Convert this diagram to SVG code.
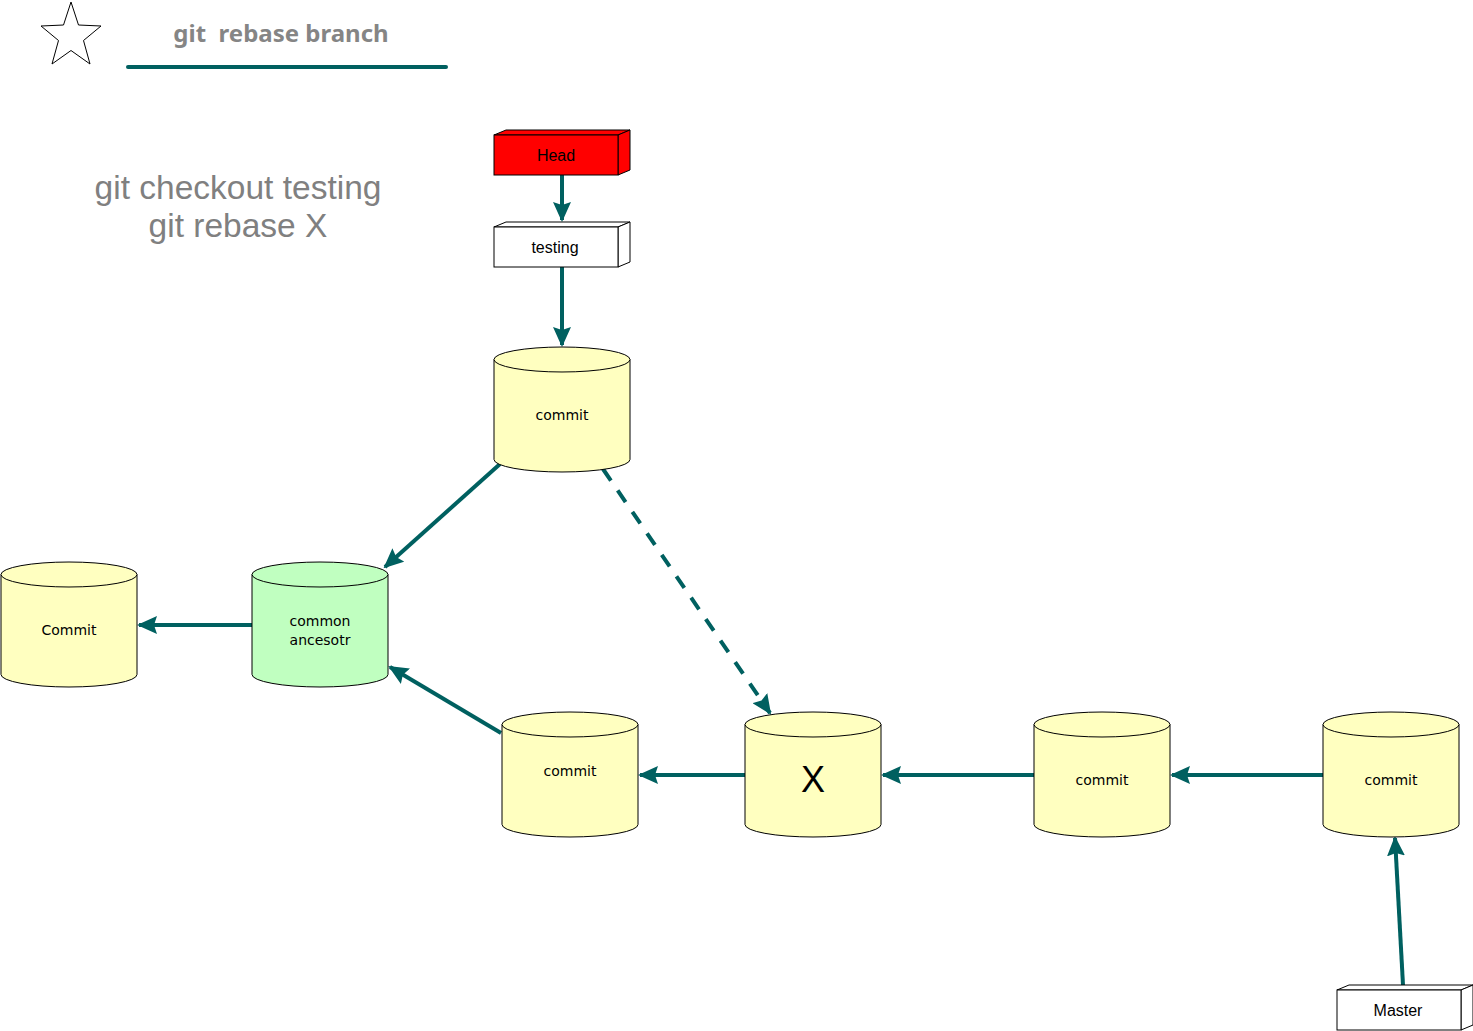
<svg xmlns="http://www.w3.org/2000/svg" width="1473" height="1031" viewBox="0 0 1473 1031">
<style>
.cyl{fill:#ffffc0;stroke:#000;stroke-width:1}
.cylg{fill:#c0ffc0;stroke:#000;stroke-width:1}
.ct{font-family:"DejaVu Sans",Verdana,sans-serif;font-size:14px;fill:#000;text-anchor:middle}
.bt{font-family:"Liberation Sans",Arial,sans-serif;font-size:16px;fill:#000;text-anchor:middle}
.box{stroke:#000;stroke-width:1}
.conn{stroke:#006060;stroke-width:4;fill:none}
</style>
<defs>
<marker id="ah" markerUnits="userSpaceOnUse" markerWidth="20" markerHeight="18" refX="18" refY="9" orient="auto">
<path d="M0,0 L20,9 L0,18 L3,9 Z" fill="#006060"/>
</marker>
</defs>
<rect width="1473" height="1031" fill="#fff"/>

<g id="title">
<polygon points="71,2 78.5,25 101,26 83.5,40.5 90,64 71,50.5 52,64 58.5,40.5 41,26 63.5,25" fill="none" stroke="#000" stroke-width="1"/>
<text x="281" y="42" font-family="'Noto Sans','Open Sans',sans-serif" font-weight="bold" font-size="24" fill="#858585" text-anchor="middle" xml:space="preserve">git  rebase branch</text>
<line x1="128" y1="67" x2="446" y2="67" stroke="#006060" stroke-width="4" stroke-linecap="round"/>
</g>

<g id="note">
<text x="238" y="199" font-family="'Liberation Sans',Arial,sans-serif" font-size="33.5" fill="#808080" text-anchor="middle">git checkout testing</text>
<text x="238" y="237" font-family="'Liberation Sans',Arial,sans-serif" font-size="33.5" fill="#808080" text-anchor="middle">git rebase X</text>
</g>

<g id="connectors">
<line class="conn" x1="562" y1="175" x2="562" y2="220" marker-end="url(#ah)"/>
<line class="conn" x1="562" y1="267" x2="562" y2="345" marker-end="url(#ah)"/>
<line class="conn" x1="500" y1="464" x2="385" y2="567" marker-end="url(#ah)"/>
<line class="conn" x1="603" y1="469" x2="770" y2="713" stroke-dasharray="14,12" marker-end="url(#ah)"/>
<line class="conn" x1="253" y1="625" x2="139" y2="625" marker-end="url(#ah)"/>
<line class="conn" x1="501" y1="733" x2="390" y2="667" marker-end="url(#ah)"/>
<line class="conn" x1="746" y1="775" x2="640" y2="775" marker-end="url(#ah)"/>
<line class="conn" x1="1035" y1="775" x2="883" y2="775" marker-end="url(#ah)"/>
<line class="conn" x1="1323" y1="775" x2="1172" y2="775" marker-end="url(#ah)"/>
<line class="conn" x1="1403" y1="985" x2="1395" y2="838" marker-end="url(#ah)"/>
</g>

<g id="head">
<polygon class="box" points="494,135 506,130 630,130 618,135" fill="#ff0000"/>
<polygon class="box" points="618,135 630,130 630,170 618,175" fill="#ff0000"/>
<rect class="box" x="494" y="135" width="124" height="40" fill="#ff0000"/>
<text class="bt" x="556" y="161">Head</text>
</g>

<g id="testing">
<polygon class="box" points="494,227 506,222 630,222 618,227" fill="#fff"/>
<polygon class="box" points="618,227 630,222 630,262 618,267" fill="#fff"/>
<rect class="box" x="494" y="227" width="124" height="40" fill="#fff"/>
<text class="bt" x="555" y="253">testing</text>
</g>

<g id="master">
<polygon class="box" points="1337,990 1349,985 1473,985 1461,990" fill="#fff"/>
<polygon class="box" points="1461,990 1473,985 1473,1025 1461,1030" fill="#fff"/>
<rect class="box" x="1337" y="990" width="124" height="40" fill="#fff"/>
<text class="bt" x="1398" y="1016">Master</text>
</g>

<g id="commit-top">
<path class="cyl" d="M494,359.5 A68,12.5 0 0 1 630,359.5 L630,459.5 A68,12.5 0 0 1 494,459.5 Z"/>
<path class="cyl" d="M494,359.5 A68,12.5 0 0 0 630,359.5" fill="none"/>
<text class="ct" x="562" y="420">commit</text>
</g>

<g id="commit-left">
<path class="cyl" d="M1,574.5 A68,12.5 0 0 1 137,574.5 L137,674.5 A68,12.5 0 0 1 1,674.5 Z"/>
<path class="cyl" d="M1,574.5 A68,12.5 0 0 0 137,574.5" fill="none"/>
<text class="ct" x="69" y="635">Commit</text>
</g>

<g id="common-ancestor">
<path class="cylg" d="M252,574.5 A68,12.5 0 0 1 388,574.5 L388,674.5 A68,12.5 0 0 1 252,674.5 Z"/>
<path class="cylg" d="M252,574.5 A68,12.5 0 0 0 388,574.5" fill="none"/>
<text class="ct" x="320" y="626">common</text>
<text class="ct" x="320" y="645">ancesotr</text>
</g>

<g id="commit-bottom">
<path class="cyl" d="M502,724.5 A68,12.5 0 0 1 638,724.5 L638,824.5 A68,12.5 0 0 1 502,824.5 Z"/>
<path class="cyl" d="M502,724.5 A68,12.5 0 0 0 638,724.5" fill="none"/>
<text class="ct" x="570" y="776">commit</text>
</g>

<g id="x">
<path class="cyl" d="M745,724.5 A68,12.5 0 0 1 881,724.5 L881,824.5 A68,12.5 0 0 1 745,824.5 Z"/>
<path class="cyl" d="M745,724.5 A68,12.5 0 0 0 881,724.5" fill="none"/>
<text x="813" y="792" font-family="'Liberation Sans',Arial,sans-serif" font-size="36" text-anchor="middle" fill="#000">X</text>
</g>

<g id="commit-3">
<path class="cyl" d="M1034,724.5 A68,12.5 0 0 1 1170,724.5 L1170,824.5 A68,12.5 0 0 1 1034,824.5 Z"/>
<path class="cyl" d="M1034,724.5 A68,12.5 0 0 0 1170,724.5" fill="none"/>
<text class="ct" x="1102" y="785">commit</text>
</g>

<g id="commit-4">
<path class="cyl" d="M1323,724.5 A68,12.5 0 0 1 1459,724.5 L1459,824.5 A68,12.5 0 0 1 1323,824.5 Z"/>
<path class="cyl" d="M1323,724.5 A68,12.5 0 0 0 1459,724.5" fill="none"/>
<text class="ct" x="1391" y="785">commit</text>
</g>
</svg>
